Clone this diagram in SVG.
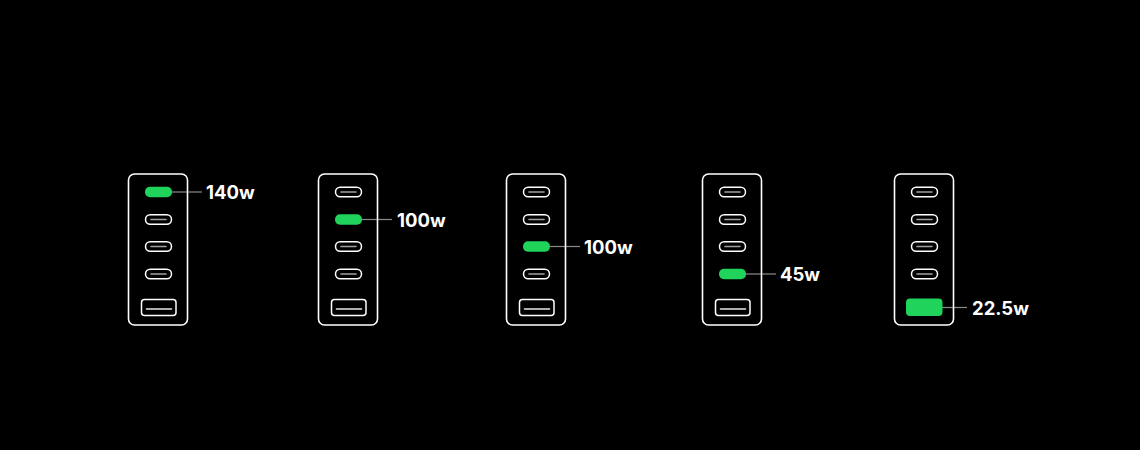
<svg xmlns="http://www.w3.org/2000/svg" width="1140" height="450" viewBox="0 0 1140 450">
<style>
.body{fill:none;stroke:#fff;stroke-width:1.6}
.c{fill:none;stroke:#fff;stroke-width:1.5}
.ci{stroke:#a0a0a0;stroke-width:1.6;stroke-linecap:round}
.a{fill:none;stroke:#fff;stroke-width:1.5}
.ai{stroke:#e6e6e6;stroke-width:1.6;stroke-linecap:round}
.on{fill:#1fd35b}
.lead{stroke:#8a8a8a;stroke-width:1.2}
.lbl{fill:#fff;font-family:Inter,"Liberation Sans",sans-serif;font-weight:700;font-size:18.5px}
</style>
<defs>
<g id="cport"><rect class="c" x="17.5" y="-4.75" width="26" height="9.5" rx="4.75"/><line class="ci" x1="23" y1="0" x2="38" y2="0"/></g>
<rect id="conport" class="on" x="17" y="-5.2" width="27" height="10.4" rx="5"/>
<g id="aport"><rect class="a" x="13.5" y="299.5" width="34.5" height="16" rx="3"/><line class="ai" x1="18.5" y1="309" x2="43.5" y2="309"/></g>
</defs>
<rect width="1140" height="450" fill="#000"/>
<g id="connectors">
<line class="lead" x1="172" y1="192" x2="202" y2="192"/>
<line class="lead" x1="362" y1="219.5" x2="392" y2="219.5"/>
<line class="lead" x1="550" y1="246.5" x2="580" y2="246.5"/>
<line class="lead" x1="746" y1="274" x2="776" y2="274"/>
<line class="lead" x1="942" y1="307.5" x2="967" y2="307.5"/>
</g>
<g id="charger1" transform="translate(128,0)">
<rect class="body" x="0.5" y="174" width="59" height="151" rx="6"/>
<use href="#conport" y="192"/>
<use href="#cport" y="219.5"/>
<use href="#cport" y="246.5"/>
<use href="#cport" y="274"/>
<use href="#aport"/>
<text class="lbl" x="78" y="199">140w</text>
</g>
<g id="charger2" transform="translate(318,0)">
<rect class="body" x="0.5" y="174" width="59" height="151" rx="6"/>
<use href="#cport" y="192"/>
<use href="#conport" y="219.5"/>
<use href="#cport" y="246.5"/>
<use href="#cport" y="274"/>
<use href="#aport"/>
<text class="lbl" x="79" y="226.5">100w</text>
</g>
<g id="charger3" transform="translate(506,0)">
<rect class="body" x="0.5" y="174" width="59" height="151" rx="6"/>
<use href="#cport" y="192"/>
<use href="#cport" y="219.5"/>
<use href="#conport" y="246.5"/>
<use href="#cport" y="274"/>
<use href="#aport"/>
<text class="lbl" x="78" y="253.5">100w</text>
</g>
<g id="charger4" transform="translate(702,0)">
<rect class="body" x="0.5" y="174" width="59" height="151" rx="6"/>
<use href="#cport" y="192"/>
<use href="#cport" y="219.5"/>
<use href="#cport" y="246.5"/>
<use href="#conport" y="274"/>
<use href="#aport"/>
<text class="lbl" x="78" y="281">45w</text>
</g>
<g id="charger5" transform="translate(894,0)">
<rect class="body" x="0.5" y="174" width="59" height="151" rx="6"/>
<use href="#cport" y="192"/>
<use href="#cport" y="219.5"/>
<use href="#cport" y="246.5"/>
<use href="#cport" y="274"/>
<rect class="on" x="12" y="298.5" width="36.5" height="17.5" rx="4"/>
<text class="lbl" x="78" y="314.5">22.5w</text>
</g>
</svg>
